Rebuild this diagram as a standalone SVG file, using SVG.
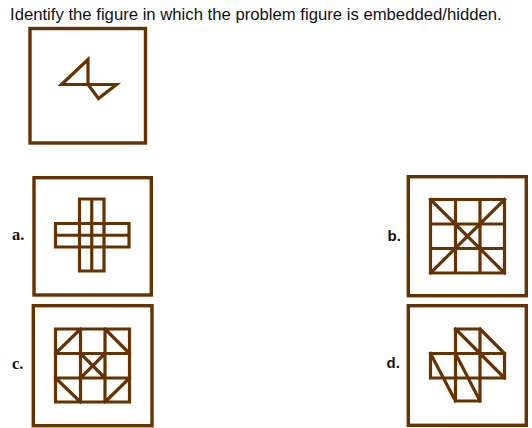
<svg xmlns="http://www.w3.org/2000/svg" width="532" height="428" viewBox="0 0 532 428">
<style>
.box{fill:none;stroke:#663300;stroke-width:3.4}
.fig{fill:none;stroke:#663300;stroke-width:3.2;stroke-linejoin:miter;stroke-linecap:square}
.q{font-family:"Liberation Sans",Arial,sans-serif;font-size:16.7px;fill:#111}
.ls{font-family:"Liberation Serif","Times New Roman",serif;font-weight:bold;font-size:16.5px;fill:#111}
.lb{font-family:"Liberation Sans",Arial,sans-serif;font-weight:bold;font-size:15px;fill:#111}
</style>
<rect width="532" height="428" fill="#fff"/>
<text class="q" x="10" y="20">Identify the figure in which the problem figure is embedded/hidden.</text>

<g id="problem">
<rect class="box" x="30" y="28.5" width="115.5" height="114.5"/>
<path class="fig" d="M88,59.5 L61.5,84.5 L116.5,84.5 L98.5,98.5 L88,84.5 Z"/>
</g>

<g id="option-a">
<text class="ls" x="12" y="240">a.</text>
<rect class="box" x="34" y="177.7" width="117.3" height="117.3"/>
<path class="fig" d="M79.5,199 H104 V271 H79.5 Z M55.5,223.5 H129 V247 H55.5 Z M91.75,199 V271 M55.5,235.25 H129"/>
</g>

<g id="option-b">
<text class="lb" x="387.5" y="241">b.</text>
<rect class="box" x="408.3" y="176.7" width="118" height="119"/>
<path class="fig" d="M430.5,199.5 H504.5 V273 H430.5 Z M455.5,199.5 V273 M480,199.5 V273 M430.5,224 H504.5 M430.5,248.5 H504.5 M430.5,199.5 L504.5,273 M504.5,199.5 L430.5,273"/>
</g>

<g id="option-c">
<text class="ls" x="12" y="368.5">c.</text>
<rect class="box" x="33.3" y="305.7" width="118.7" height="120"/>
<path class="fig" d="M55.5,329 H129.5 V402 H55.5 Z M80.5,329 V402 M105,329 V402 M55.5,353.5 H129.5 M55.5,378 H129.5 M55.5,353.5 L80.5,329 M105,329 L129.5,353.5 M55.5,378 L80.5,402 M129.5,378 L105,402 M80.5,353.5 L105,378 M105,353.5 L80.5,378"/>
</g>

<g id="option-d">
<text class="lb" x="386.5" y="367.5">d.</text>
<rect class="box" x="408.3" y="305.7" width="118" height="119.6"/>
<path class="fig" d="M455.5,329 H480 M455.5,329 V401 H480 V329 M430.5,353.5 H504.5 V378 H430.5 Z M480,329 L504.5,353.5 M455.5,329 L504.5,378 M430.5,353.5 L455.5,401 M455.5,353.5 L480,401"/>
</g>
</svg>
